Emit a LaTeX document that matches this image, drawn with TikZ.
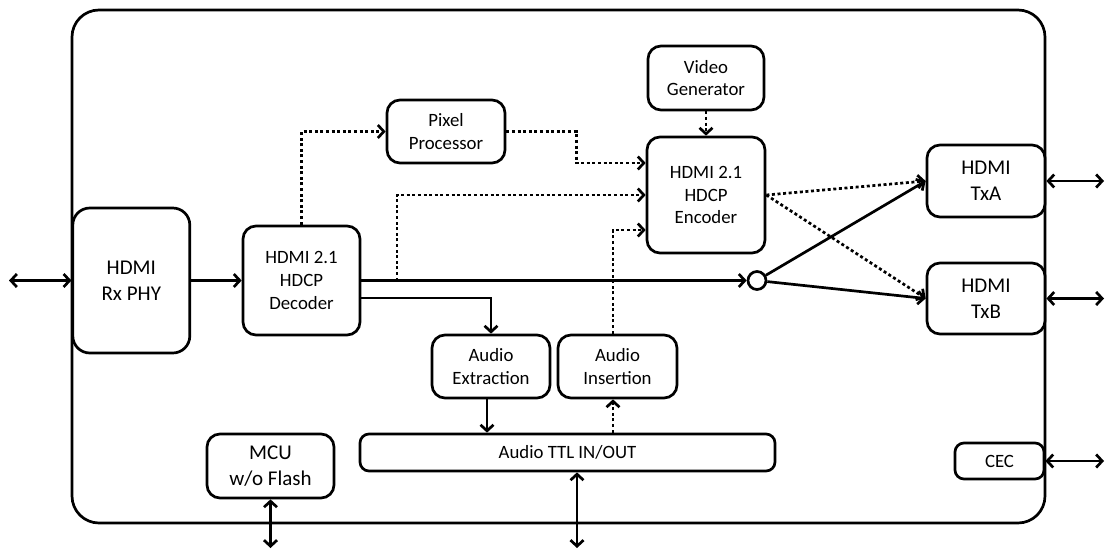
\documentclass[tikz,border=0pt]{standalone}
\usepackage{fontspec}
\setmainfont{Carlito}
\usetikzlibrary{arrows.meta,calc}
\begin{document}
\begin{tikzpicture}[x=1pt,y=-1pt,
  box/.style={draw,line width=2.7pt,rounded corners=13pt,fill=white,align=center,inner sep=0pt,font=\fontsize{18.8}{22.8}\selectfont},
  bigbox/.style={box,rounded corners=17pt,font=\fontsize{21}{26}\selectfont},
  conn/.style={line width=2.7pt,-{Straight Barb[length=6pt,width=13pt]}},
  bi/.style={line width=2.7pt,{Straight Barb[length=6pt,width=13pt]}-{Straight Barb[length=6pt,width=13pt]}},
  dots/.style={conn,dash pattern=on 3pt off 2.6pt},
]
\useasboundingbox (0,0) rectangle (1105,549);
% outer frame
\draw[line width=2.7pt,rounded corners=27pt] (72,10) rectangle (1045,523);

% nodes
\node[bigbox,minimum width=117pt,minimum height=145pt] (rx) at (131.3,280.5) {HDMI\\Rx PHY};
\node[box,minimum width=117pt,minimum height=109pt] (dec) at (301.5,280.5) {HDMI 2.1\\HDCP\\Decoder};
\node[box,minimum width=118pt,minimum height=63pt] (pp) at (446,131.5) {Pixel\\Processor};
\node[box,minimum width=116pt,minimum height=64pt] (vg) at (706,78) {Video\\Generator};
\node[box,minimum width=118pt,minimum height=116pt] (enc) at (706,195) {HDMI 2.1\\HDCP\\Encoder};
\node[bigbox,rounded corners=13pt,minimum width=118pt,minimum height=72pt] (txa) at (986,181) {HDMI\\TxA};
\node[bigbox,rounded corners=13pt,minimum width=118pt,minimum height=71pt] (txb) at (986,298.5) {HDMI\\TxB};
\node[box,minimum width=118pt,minimum height=63pt] (ae) at (491,366.5) {Audio\\Extraction};
\node[box,minimum width=119pt,minimum height=63pt] (ai) at (617.5,366.5) {Audio\\Insertion};
\node[box,rounded corners=9pt,minimum width=415pt,minimum height=37pt] (ttl) at (567.5,452.5) {Audio TTL IN/OUT};
\node[bigbox,rounded corners=13pt,minimum width=127pt,minimum height=64pt] (mcu) at (270.5,466) {MCU\\w/o Flash};
\node[box,rounded corners=9pt,minimum width=89pt,minimum height=36pt] (cec) at (999.5,461) {CEC};
\node[circle,draw,line width=2.7pt,fill=white,minimum size=18pt,inner sep=0pt] (circ) at (757,280.5) {};

% external end points
\coordinate (rxext) at (9,280.5);
\coordinate (txaext) at (1104,181);
\coordinate (txbext) at (1104,298.5);
\coordinate (cecext) at (1104,461);
\coordinate (mcuext) at (270.5,548);
\coordinate (ttlext) at (577,548);
\coordinate (tap) at (397,280.5);

% solid connectors
\draw[bi] (rxext) -- (rx.west);
\draw[conn] (rx.east) -- (dec.west);
\draw[conn] (dec.east) -- (circ.west);
\draw[conn] ([yshift=-17.5pt]dec.east) -| (ae.north);
\draw[conn] ([xshift=-4pt]ae.south) -- ([xshift=-4pt]ae.south |- ttl.north);
\draw[conn] (circ) -- (txa.west);
\draw[conn] (circ) -- (txb.west);
\draw[bi] (txa.east) -- (txaext);
\draw[bi] (txb.east) -- (txbext);
\draw[bi] (cec.east) -- (cecext);
\draw[bi] (mcu.south) -- (mcuext);
\draw[bi] (ttlext) -- (ttlext |- ttl.south);

% dotted connectors
\draw[dots] (dec.north) |- (pp.west);
\draw[dots] (pp.east) -- ++(70,0) |- ([yshift=32pt]enc.west);
\draw[dots] (tap) |- (enc.west);
\draw[dots] ([xshift=-4.5pt]ai.north) |- ([yshift=-35pt]enc.west);
\draw[dots] ([xshift=-4.5pt]ai.south |- ttl.north) -- ([xshift=-4.5pt]ai.south);
\draw[dots] (vg.south) -- (enc.north);
\draw[dots] (enc.east) -- (txa.west);
\draw[dots] (enc.east) -- (txb.west);
\end{tikzpicture}
\end{document}
